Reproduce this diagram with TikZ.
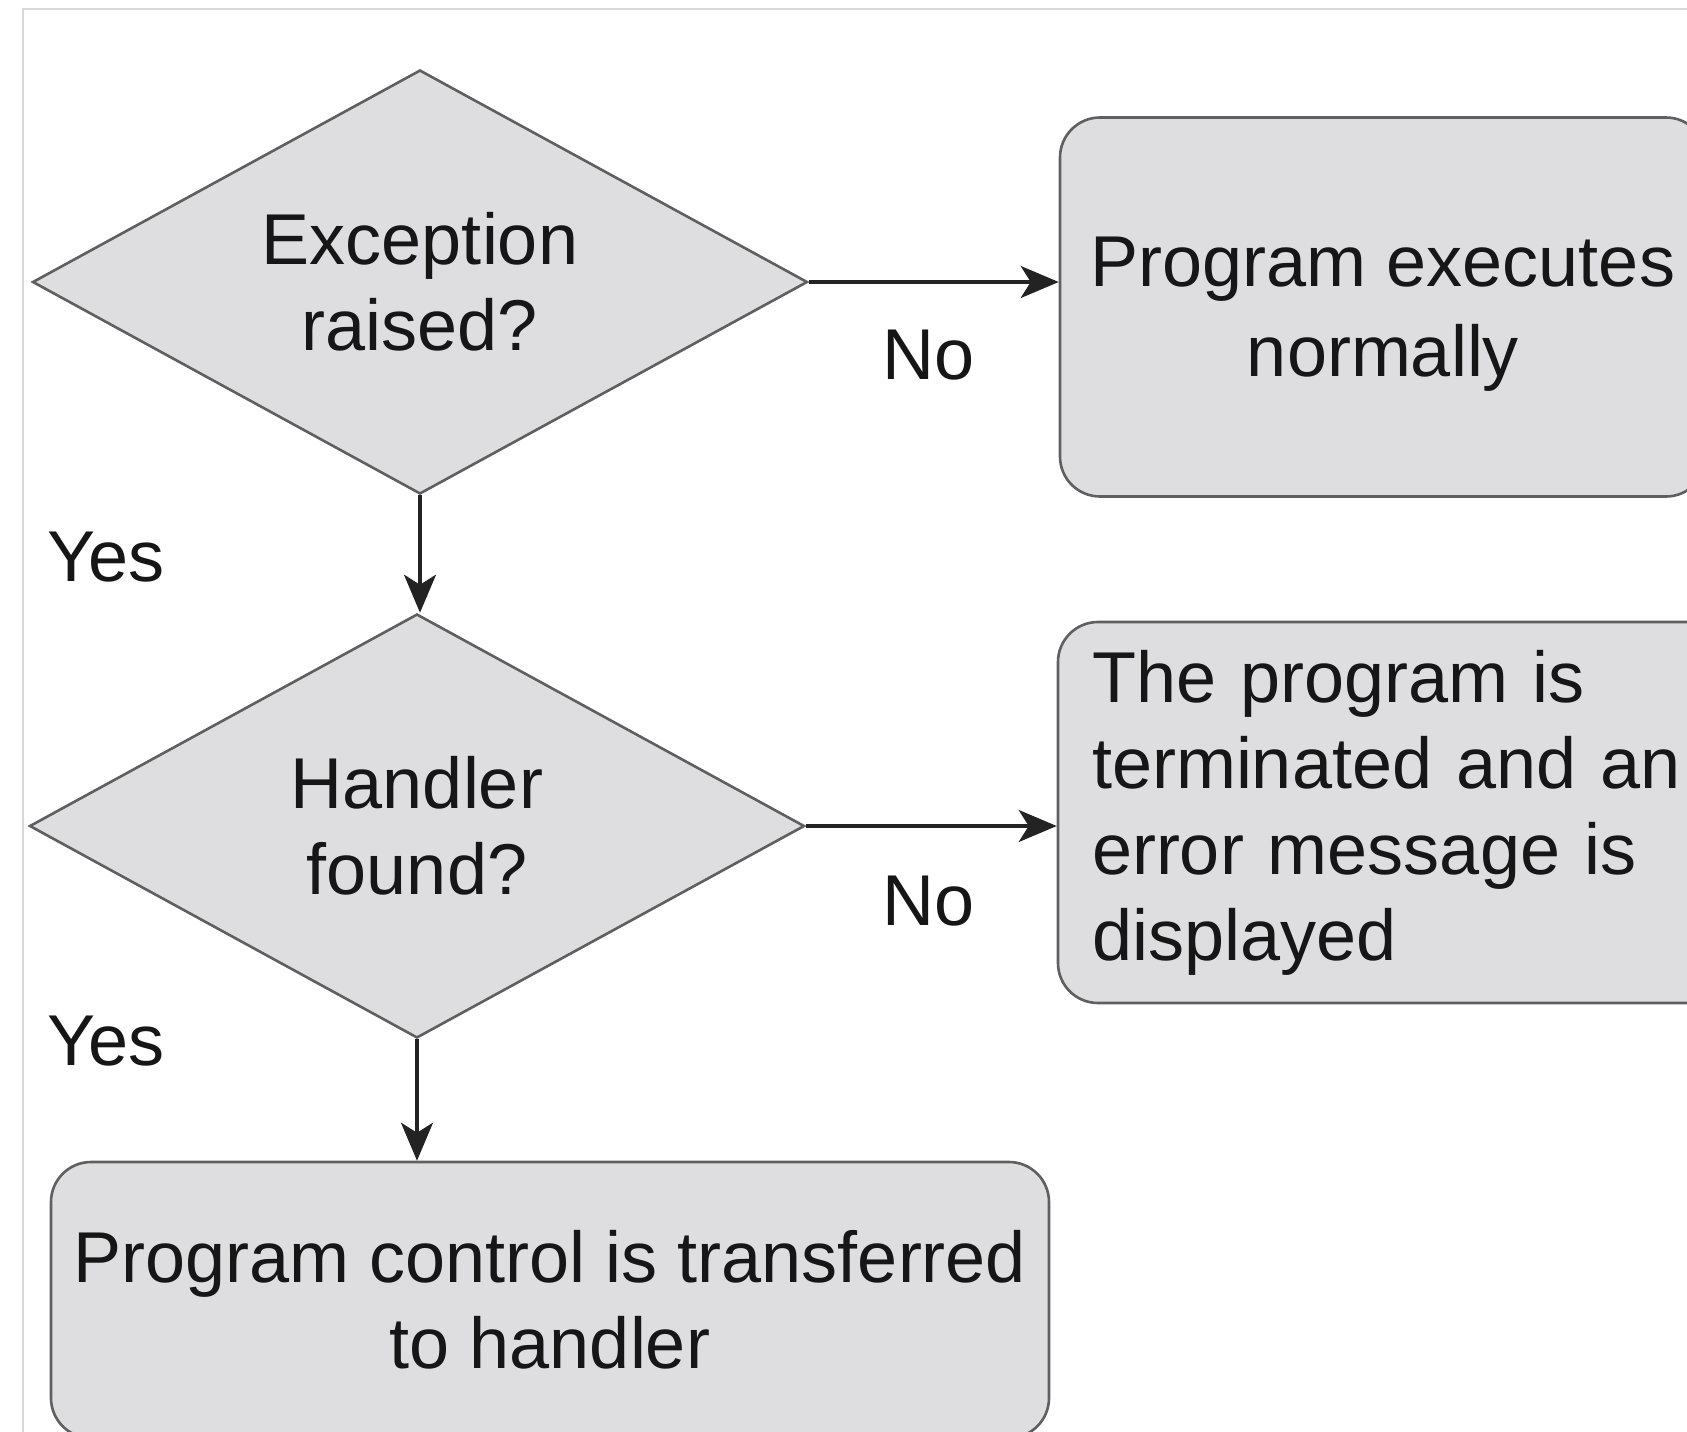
\documentclass[tikz,border=0pt]{standalone}
\usepackage{fontspec}
\setmainfont{Liberation Sans}
\usetikzlibrary{shapes.geometric,arrows.meta}
\definecolor{shapefill}{RGB}{222,222,225}
\definecolor{shapeline}{RGB}{95,95,95}
\definecolor{arrowcol}{RGB}{35,35,35}
\definecolor{framecol}{RGB}{215,215,215}
\definecolor{textcol}{RGB}{22,22,22}
\begin{document}
\begin{tikzpicture}[x=0.5pt,y=-0.5pt,
  every node/.style={font=\fontsize{36}{43}\selectfont, text=textcol},
  decision/.style={diamond, draw=shapeline, fill=shapefill, line width=1.3pt, aspect=1.83,
    minimum width=387.5pt, minimum height=212pt, inner sep=0pt, align=center},
  outcome/.style={rectangle, rounded corners=20pt, draw=shapeline, fill=shapefill, line width=1.3pt},
  flow/.style={draw=arrowcol, line width=1.6pt, -{Stealth[length=19pt,width=16pt,inset=5pt]}},
  lbl/.style={anchor=base, inner sep=0pt}]
\useasboundingbox (0,0) rectangle (1687,1431);
\draw[framecol, line width=1pt] (23,9) rectangle (1720,1460);
\node[decision] (d1) at (420,282) {Exception\\raised?};
\node[decision] (d2) at (417,826) {Handler\\found?};
\node[outcome, minimum width=323pt, minimum height=189.5pt, text depth=0pt, align=center] (b1) at (1383,307) {Program executes\\[2pt]normally};
\node[outcome, minimum width=350pt, minimum height=190.5pt, text width=316pt, inner xsep=17pt, align=left] (b2) at (1408,812.5) {The program is\\terminated and an\\error message is\\displayed};
\node[outcome, minimum width=499pt, minimum height=138pt, align=center] (b3) at (550,1300) {Program control is transferred\\to handler};
\draw[flow] (d1.east) -- (d1.east -| b1.west);
\draw[flow] (d1.south) -- (d1.south |- d2.north);
\draw[flow] (d2.east) -- (d2.east -| b2.west);
\draw[flow] (d2.south) -- (d2.south |- b3.north);
\node[lbl] (no1) at (929,379) {No};
\node[lbl] (yes1) at (106,581) {Yes};
\node[lbl] (no2) at (929,925) {No};
\node[lbl] (yes2) at (106,1065) {Yes};
\end{tikzpicture}
\end{document}
